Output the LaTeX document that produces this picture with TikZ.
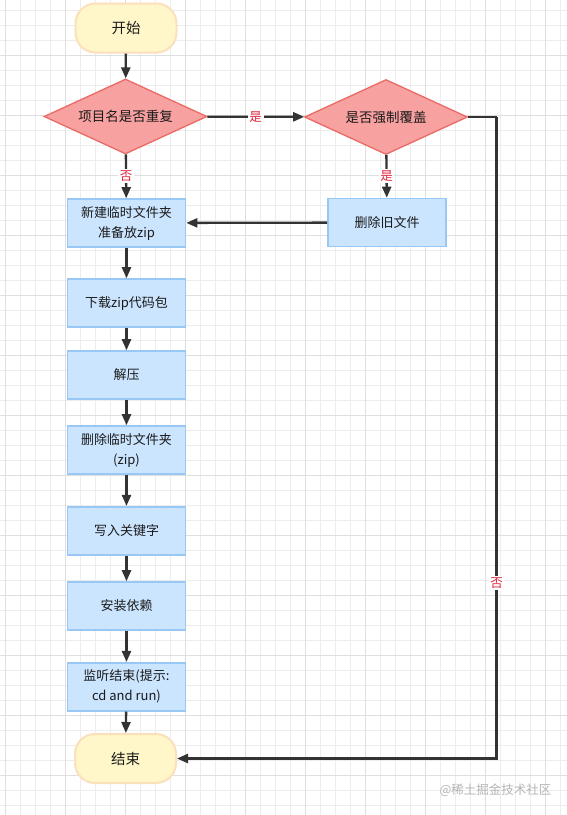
\documentclass[tikz,border=0pt]{standalone}
\usepackage{fontspec}
\setmainfont{Noto Sans CJK SC}
\usetikzlibrary{shapes.geometric,arrows.meta}
\definecolor{gridminor}{HTML}{EDEDED}
\definecolor{gridmajor}{HTML}{DFDFDF}
\definecolor{termfill}{HTML}{FFF7C9}
\definecolor{termline}{HTML}{FBE0BC}
\definecolor{decfill}{HTML}{F7A1A0}
\definecolor{decline}{HTML}{EA6B66}
\definecolor{procfill}{HTML}{CCE5FF}
\definecolor{procline}{HTML}{99C8F5}
\definecolor{conn}{HTML}{333333}
\definecolor{lblred}{HTML}{E0263D}
\definecolor{txt}{HTML}{1A1A1A}
\definecolor{wm}{HTML}{B5B5B5}
\tikzset{
  terminal/.style={draw=termline, fill=termfill, line width=2pt, rounded corners=20pt,
    minimum width=101pt, minimum height=49pt, inner sep=0pt, text=txt,
    font=\fontsize{14.5}{17}\selectfont},
  decision/.style={draw=decline, fill=decfill, line width=1.3pt, diamond, aspect=2.17,
    minimum width=163pt, minimum height=75pt, inner sep=0pt, text=txt,
    font=\fontsize{13.5}{16}\selectfont},
  process/.style={draw=procline, fill=procfill, line width=1.6pt, rectangle,
    minimum width=118pt, minimum height=48pt, inner sep=0pt, text=txt, align=center,
    font=\fontsize{13}{20}\selectfont},
  flow/.style={draw=conn, line width=2.3pt, -{Triangle[length=11pt,width=9pt]}},
  plainline/.style={draw=conn, line width=2.3pt},
  lbl/.style={fill=white, text=lblred, inner sep=1.5pt, font=\fontsize{12.5}{14}\selectfont},
}
\begin{document}
\begin{tikzpicture}[x=1pt,y=-1pt]
\useasboundingbox (0,0) rectangle (567,815);
\fill[white] (0,0) rectangle (567,815);
% grid
\foreach \gx in {5.7,20.7,...,566} {\draw[gridminor,line width=0.9pt] (\gx,0) -- (\gx,815);}
\foreach \gy in {10,25,...,815} {\draw[gridminor,line width=0.9pt] (0,\gy) -- (567,\gy);}
\foreach \gx in {5.7,65.7,...,566} {\draw[gridmajor,line width=1pt] (\gx,0) -- (\gx,815);}
\foreach \gy in {55,115,...,815} {\draw[gridmajor,line width=1pt] (0,\gy) -- (567,\gy);}

\node[terminal] (start) at (126,28) {开始};
\node[decision] (d1) at (125.5,116.5) {项目名是否重复};
\node[decision] (d2) at (386,117) {是否强制覆盖};
\node[process] (del) at (387,222.5) {删除旧文件};
\node[process] (b1) at (126.5,223) {新建临时文件夹\\准备放zip};
\node[process] (b2) at (126.5,303) {下载zip代码包};
\node[process] (b3) at (126.5,375) {解压};
\node[process] (b4) at (126.5,450) {删除临时文件夹\\(zip)};
\node[process] (b5) at (126.5,530.7) {写入关键字};
\node[process] (b6) at (126.5,606) {安装依赖};
\node[process] (b7) at (126.5,686.7) {监听结束(提示:\\cd and run)};
\node[terminal] (end) at (125.5,758.5) {结束};
\coordinate (c1) at (496.5,117);

\draw[flow] (start) -- (d1);
\draw[flow] (d1) -- node[lbl] {是} (d2);
\draw[flow] (d1) -- node[lbl] {否} (b1);
\draw[flow] (d2) -- node[lbl] {是} (del);
\draw[flow] (del) -- (b1);
\draw[plainline] (d2.east) -- (c1);
\draw[flow] (c1) |- node[lbl,pos=0.363] {否} (end.east);
\draw[flow] (b1) -- (b2);
\draw[flow] (b2) -- (b3);
\draw[flow] (b3) -- (b4);
\draw[flow] (b4) -- (b5);
\draw[flow] (b5) -- (b6);
\draw[flow] (b6) -- (b7);
\draw[flow] (b7) -- (end);

\node[text=wm, font=\fontsize{12.5}{14}\selectfont] (wmk) at (495.5,790) {@稀土掘金技术社区};
\end{tikzpicture}
\end{document}
